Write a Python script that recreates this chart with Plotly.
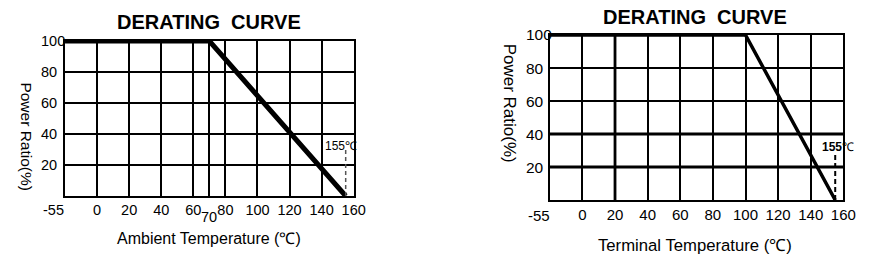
import plotly.graph_objects as go

W, H = 881, 254

# ---- data ----
x_tick_labels = [-55, 0, 20, 40, 60, 80, 100, 120, 140, 160]
y_tick_labels = [20, 40, 60, 80, 100]

left_temp = [-55, 70, 155]
left_ratio = [100, 100, 0]
left_extra_grid = [70]

right_temp = [-55, 100, 155]
right_ratio = [100, 100, 0]
right_heavy_x = [20]
right_heavy_y = [20, 40]

marker_temp = [155, 155]
marker_ratio_left = [0, 30]
marker_ratio_right = [0, 29]


def pos(t):
    """Piecewise axis: the -55..0 column is drawn the same width as 20 degrees."""
    return t if t >= 0 else t * 20.0 / 55.0


def px_x(p):
    return p / W


def px_y(p):
    return 1 - p / H


FONT = "Liberation Sans, Arial, sans-serif"
fig = go.Figure()

# main curves
fig.add_trace(go.Scatter(x=[pos(t) for t in left_temp], y=left_ratio, mode="lines",
                         line=dict(color="black", width=5), xaxis="x", yaxis="y",
                         showlegend=False, cliponaxis=False))
fig.add_trace(go.Scatter(x=[pos(t) for t in marker_temp], y=marker_ratio_left, mode="lines",
                         line=dict(color="#555", width=1.5, dash="4px,3px"), xaxis="x", yaxis="y",
                         showlegend=False))
fig.add_trace(go.Scatter(x=[pos(t) for t in right_temp], y=right_ratio, mode="lines",
                         line=dict(color="black", width=3.5), xaxis="x2", yaxis="y2",
                         showlegend=False, cliponaxis=False))
fig.add_trace(go.Scatter(x=[pos(t) for t in marker_temp], y=marker_ratio_right, mode="lines",
                         line=dict(color="black", width=2, dash="5px,3px"), xaxis="x2", yaxis="y2",
                         showlegend=False))

left_tickvals = [pos(t) for t in x_tick_labels[1:]] + left_extra_grid
left_ticktext = [str(t) for t in x_tick_labels[1:]] + ["" for _ in left_extra_grid]
right_tickvals = [pos(t) for t in x_tick_labels[1:]]
right_ticktext = [str(t) for t in x_tick_labels[1:]]

axis_common = dict(showgrid=True, gridcolor="black", gridwidth=1.6, zeroline=False,
                   showline=True, mirror=True, linecolor="black", linewidth=2,
                   ticks="", fixedrange=True)

shapes = []
for v in right_heavy_x:
    shapes.append(dict(type="line", xref="x2", yref="y2 domain", x0=pos(v), x1=pos(v), y0=0, y1=1,
                       line=dict(color="black", width=2.8), layer="below"))
for v in right_heavy_y:
    shapes.append(dict(type="line", xref="x2 domain", yref="y2", x0=0, x1=1, y0=v, y1=v,
                       line=dict(color="black", width=2.8), layer="below"))

fig.update_layout(
    width=W, height=H, margin=dict(l=0, r=0, t=0, b=0),
    paper_bgcolor="white", plot_bgcolor="white",
    font=dict(family=FONT, color="black", size=14),
    shapes=shapes,
    xaxis=dict(domain=[px_x(66), px_x(359)], range=[pos(-55), 160],
               tickvals=left_tickvals, ticktext=left_ticktext,
               tickfont=dict(size=14.5), anchor="y", **axis_common),
    yaxis=dict(domain=[px_y(196), px_y(41)], range=[0, 100],
               tickvals=y_tick_labels[:-1], showticklabels=False, anchor="x", **axis_common),
    xaxis2=dict(domain=[px_x(558), px_x(856)], range=[pos(-55), 160],
                tickvals=right_tickvals, ticktext=right_ticktext,
                tickfont=dict(size=15), anchor="y2", **axis_common),
    yaxis2=dict(domain=[px_y(200), px_y(35)], range=[0, 100],
                tickvals=y_tick_labels[:-1], showticklabels=False, anchor="x2", **axis_common),
)


def A(**kw):
    d = dict(showarrow=False, xanchor="center", yanchor="middle")
    d.update(kw)
    return d


ann = []
# titles
ann.append(A(text="<b>DERATING  CURVE</b>", x=px_x(212), y=px_y(22), xref="paper", yref="paper",
             font=dict(size=20)))
ann.append(A(text="<b>DERATING  CURVE</b>", x=px_x(705), y=px_y(17), xref="paper", yref="paper",
             font=dict(size=20)))
# axis titles
ann.append(A(text="Ambient Temperature (℃)", x=px_x(212), y=px_y(238), xref="paper", yref="paper",
             font=dict(size=16)))
ann.append(A(text="Terminal Temperature (℃)", x=px_x(705), y=px_y(245), xref="paper", yref="paper",
             font=dict(size=16.7)))
ann.append(A(text="Power Ratio(%)", x=px_x(27), y=px_y(137), xref="paper", yref="paper",
             textangle=90, font=dict(size=15.5)))
ann.append(A(text="Power Ratio(%)", x=px_x(517), y=px_y(103), xref="paper", yref="paper",
             textangle=90, font=dict(size=17)))
# y tick labels (left aligned)
for v in y_tick_labels:
    ann.append(A(text=str(v), x=px_x(40), y=v, xref="paper", yref="y", xanchor="left",
                 font=dict(size=14.5)))
    ann.append(A(text=str(v), x=px_x(532), y=v, xref="paper", yref="y2", xanchor="left",
                 font=dict(size=15.5)))
# -55 labels and shifted 70
ann.append(A(text=str(x_tick_labels[0]), x=pos(x_tick_labels[0]), y=0, xref="x", yref="y",
             xshift=-12, yshift=-14, font=dict(size=14.5)))
ann.append(A(text=str(x_tick_labels[0]), x=pos(x_tick_labels[0]), y=0, xref="x2", yref="y2",
             xshift=-11, yshift=-15, font=dict(size=15)))
ann.append(A(text=str(left_extra_grid[0]), x=left_extra_grid[0], y=0, xref="x", yref="y",
             yshift=-21, font=dict(size=14.5)))
# 155 markers
ann.append(A(text="155℃", x=152, y=32, xref="x", yref="y", font=dict(size=12)))
ann.append(A(text="<b>155</b>℃", x=157, y=32, xref="x2", yref="y2", font=dict(size=12)))
fig.update_layout(annotations=ann)

fig.write_html("out.html")
